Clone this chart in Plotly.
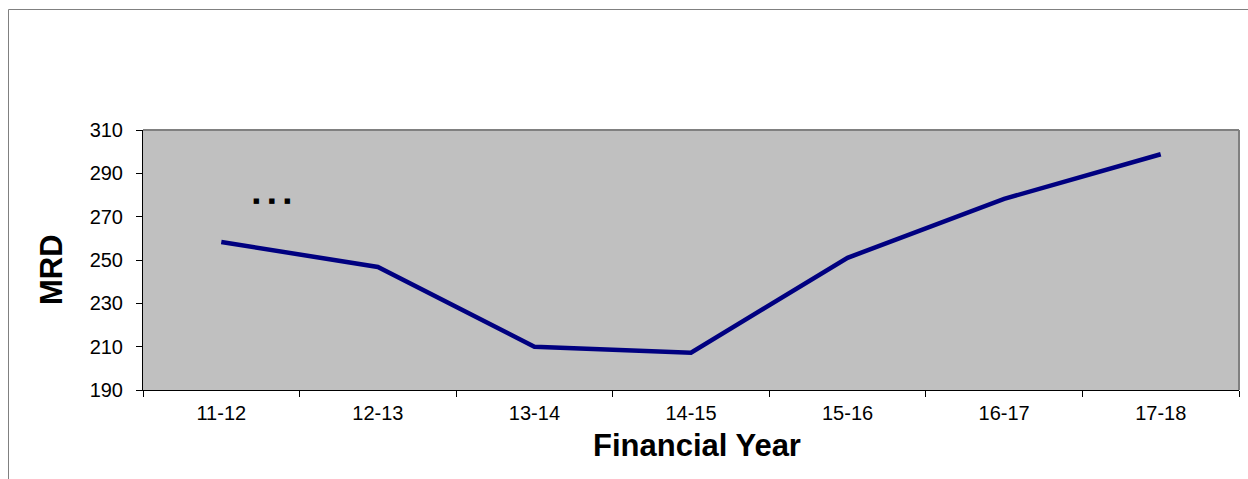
import plotly.graph_objects as go

years = ["11-12", "12-13", "13-14", "14-15", "15-16", "16-17", "17-18"]
mrd = [258.3, 246.8, 210.0, 207.2, 251.0, 278.2, 298.8]
y_ticks = [190, 210, 230, 250, 270, 290, 310]

W, H = 1248, 479
L, R, T, B = 143, 9, 130, 89
pw, ph = W - L - R, H - T - B

def px(x):
    return (x - L) / pw

def py(y):
    return (H - B - y) / ph

fig = go.Figure()
fig.add_trace(go.Scatter(
    x=years, y=mrd, mode="lines",
    line=dict(color="#000080", width=4.5),
    hoverinfo="skip", showlegend=False,
))

fig.update_layout(
    width=W, height=H,
    margin=dict(l=L, r=R, t=T, b=B, autoexpand=False),
    paper_bgcolor="white",
    plot_bgcolor="#C0C0C0",
    font=dict(family="Liberation Sans, Arial, sans-serif", color="black", size=20),
    xaxis=dict(
        type="category", tickson="boundaries", range=[-0.5, 6.5],
        showgrid=False, zeroline=False, automargin=False,
        showline=True, linecolor="black", linewidth=1,
        ticks="outside", ticklen=6, tickcolor="black", tickwidth=1,
        tickfont=dict(size=20), ticklabelstandoff=5,
    ),
    yaxis=dict(
        range=[190, 310], tickvals=y_ticks, automargin=False,
        showgrid=False, zeroline=False,
        showline=True, linecolor="black", linewidth=1,
        ticks="outside", ticklen=6, tickcolor="black", tickwidth=1,
        tickfont=dict(size=20), ticklabelstandoff=9,
    ),
    shapes=[
        dict(type="line", xref="paper", yref="paper", x0=0, x1=1, y0=1, y1=1,
             line=dict(color="#808080", width=2)),
        dict(type="line", xref="paper", yref="paper", x0=1, x1=1, y0=0, y1=1,
             line=dict(color="#808080", width=2)),
        dict(type="rect", xref="paper", yref="paper",
             x0=px(8.5), x1=px(1260), y0=py(9.5), y1=py(500),
             line=dict(color="#808080", width=1), layer="below"),
    ],
    annotations=[
        dict(text="<b>Financial Year</b>", xref="paper", yref="paper",
             x=px(697), y=py(445), xanchor="center", yanchor="middle",
             showarrow=False, font=dict(size=31)),
        dict(text="<b>MRD</b>", xref="paper", yref="paper", textangle=-90,
             x=px(51), y=py(270), xanchor="center", yanchor="middle",
             showarrow=False, font=dict(size=31)),
        dict(text="■    ■    ■", xref="paper", yref="paper",
             x=px(272), y=py(201), xanchor="center", yanchor="middle",
             showarrow=False,
             font=dict(size=7, color="black", family="DejaVu Sans")),
    ],
)

fig.write_html("out.html")
